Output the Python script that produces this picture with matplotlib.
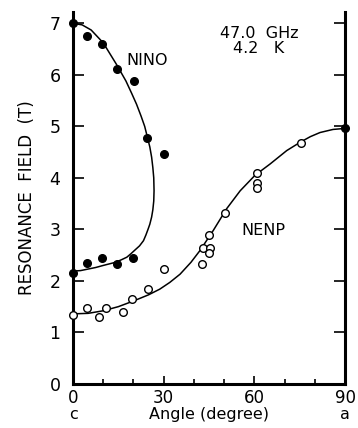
import matplotlib
matplotlib.use("Agg")
import matplotlib.pyplot as plt

# NINO (filled circles) measured points
nino_angle = [0, 4.5, 9.5, 14.5, 20.2, 24.6, 30.1, 0, 4.5, 9.5, 14.7, 19.7, 90]
nino_field = [7.0, 6.75, 6.60, 6.11, 5.88, 4.77, 4.46, 2.15, 2.34, 2.44, 2.32, 2.45, 4.97]

# NENP (open circles) measured points
nenp_angle = [0, 4.7, 8.7, 10.8, 16.6, 19.6, 24.9, 30.2, 42.6, 42.9, 45.3, 45.1, 45.1,
              50.3, 60.8, 60.8, 60.8, 75.3]
nenp_field = [1.34, 1.48, 1.29, 1.47, 1.39, 1.65, 1.84, 2.23, 2.33, 2.63, 2.63, 2.54, 2.90,
              3.32, 4.09, 3.90, 3.81, 4.68]

# fitted curves
nino_fit_angle = [0, 3, 6, 10, 14.5, 17.5, 19.4, 21, 22.5, 23.7, 24.6, 25.4, 26.0, 26.4,
                  26.7, 26.8, 26.7, 26.4, 26.0, 25.4, 24.8, 24.1, 23.3, 22.0, 20.5, 19.2,
                  17.8, 16, 14, 12, 10, 7.5, 5, 2.5, 0]
nino_fit_field = [7.0, 6.97, 6.87, 6.62, 6.19, 5.88, 5.64, 5.43, 5.20, 5.0, 4.79, 4.60, 4.40,
                  4.20, 4.00, 3.75, 3.55, 3.38, 3.24, 3.10, 3.00, 2.89, 2.78, 2.68, 2.60, 2.53,
                  2.46, 2.41, 2.36, 2.33, 2.30, 2.26, 2.23, 2.20, 2.19]
nenp_fit_angle = [0, 5, 10, 15, 20, 25, 28.7, 32, 35.4, 39, 42, 46.4, 50.8, 55.3, 60.2,
                  65.2, 70.7, 75.1, 78.5, 81.7, 86, 90]
nenp_fit_field = [1.36, 1.37, 1.42, 1.50, 1.61, 1.73, 1.84, 1.97, 2.13, 2.36, 2.59, 2.98, 3.40,
                  3.75, 4.05, 4.27, 4.53, 4.69, 4.80, 4.88, 4.94, 4.96]

x_major = [0, 30, 60, 90]
x_minor = [10, 20, 40, 50, 70, 80]
y_ticks = [0, 1, 2, 3, 4, 5, 6, 7]

fig = plt.figure(figsize=(3.58, 4.28), dpi=100)
ax = fig.add_axes([0.204, 0.103, 0.76, 0.869])

ax.plot(nino_fit_angle, nino_fit_field, color="black", lw=1.1)
ax.plot(nenp_fit_angle, nenp_fit_field, color="black", lw=1.1)
ax.plot(nino_angle, nino_field, "o", color="black", ms=5.5, clip_on=False, zorder=5)
ax.plot(nenp_angle, nenp_field, "o", mfc="white", mec="black", mew=1.0, ms=5.5,
        clip_on=False, zorder=5)

ax.set_xlim(0, 90)
ax.set_ylim(0, 7.22)

ax.spines["top"].set_visible(False)
for s in ["left", "right", "bottom"]:
    ax.spines[s].set_linewidth(2.2)

ax.set_xticks(x_major)
ax.set_xticks(x_minor, minor=True)
ax.set_yticks(y_ticks)
ax.tick_params(axis="x", which="major", direction="in", length=6, width=1.2,
               labelsize=12, pad=4)
ax.tick_params(axis="x", which="minor", direction="in", length=3.5, width=1.2)
ax.tick_params(axis="y", which="major", direction="in", length=8, width=1.2,
               labelsize=12.5, pad=9, right=True)

ax.set_ylabel("RESONANCE  FIELD  (T)", fontsize=12, labelpad=10)
ax.text(45, -0.6, "Angle (degree)", fontsize=11.5, ha="center", va="center")
ax.text(0, -0.6, "c", fontsize=11.5, ha="center", va="center")
ax.text(90, -0.6, "a", fontsize=11.5, ha="center", va="center")

ax.text(24.4, 6.28, "NINO", fontsize=11.5, ha="center", va="center")
ax.text(63, 2.98, "NENP", fontsize=11.5, ha="center", va="center")
ax.text(61.5, 6.66, "47.0  GHz\n4.2   K", fontsize=11.5, ha="center", va="center",
        linespacing=0.95)

fig.savefig("out.png", dpi=100)
